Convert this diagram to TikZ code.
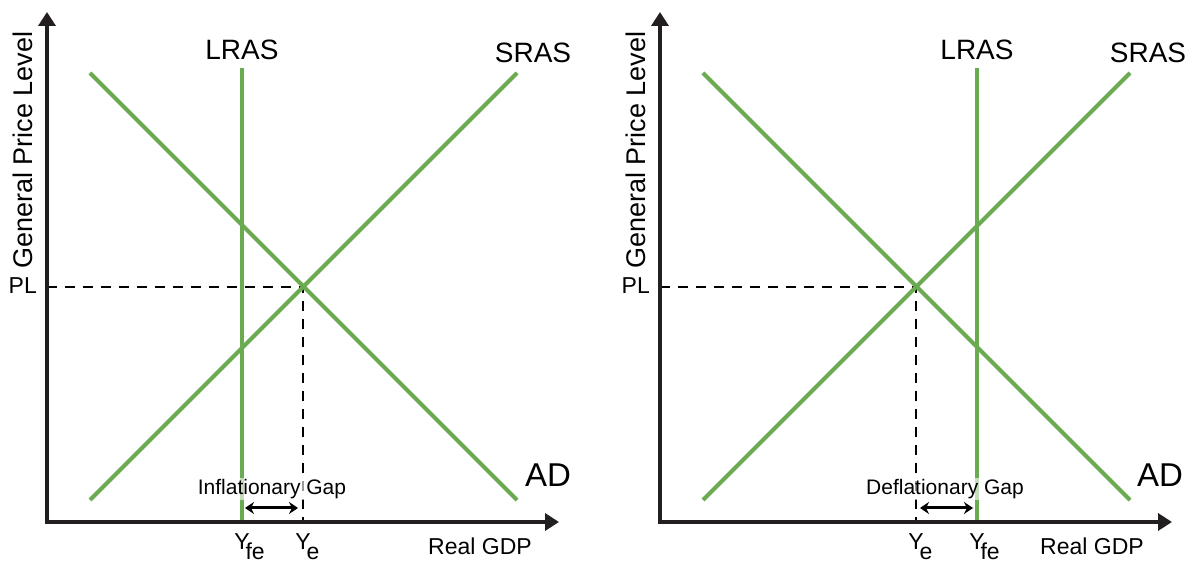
\documentclass[tikz,border=0pt]{standalone}
\usepackage{fontspec}
\setmainfont{Liberation Sans}
\usetikzlibrary{arrows.meta, positioning}
\definecolor{curvegreen}{RGB}{106,170,80}
\definecolor{axisgray}{RGB}{35,31,32}
\newcommand{\ysub}[1]{Y\rlap{\kern-0.18em\raisebox{-0.45em}{#1}}}

\begin{document}
\begin{tikzpicture}[x=1pt, y=1pt,
  axis/.style={{Triangle[length=14pt, width=17pt]}-{Triangle[length=14pt, width=17pt]},
               line width=4.5pt, draw=axisgray},
  curve/.style={draw=curvegreen, line width=4pt},
  guide/.style={line width=2.8pt, dash pattern=on 10pt off 8pt},
  gaparrow/.style={{Stealth[length=9pt, width=12pt]}-{Stealth[length=9pt, width=12pt]},
                   line width=3pt},
  curvelabel/.style={font=\fontsize{28}{28}\selectfont, inner sep=0pt},
  bigcurvelabel/.style={font=\fontsize{33}{33}\selectfont, inner sep=0pt},
  axislabel/.style={font=\fontsize{23}{23}\selectfont, inner sep=0pt},
  titlelabel/.style={font=\fontsize{27}{27}\selectfont, inner sep=0pt, rotate=90},
  gaplabel/.style={font=\fontsize{21}{21}\selectfont, inner sep=1pt,
                   fill=white, fill opacity=0.6, text opacity=1}
]
\useasboundingbox (0,0) rectangle (1203,570);

% inflationary gap
\begin{scope}[shift={(47,48)}]
  \coordinate (o1) at (0,0);
  \coordinate (ytip1) at (0,510);
  \coordinate (xtip1) at (512,0);
  \coordinate (lrastop1) at (195,454);
  \coordinate (lrasbot1) at (195,0);
  \coordinate (sraslo1) at (43,22);
  \coordinate (srashi1) at (470,449);
  \coordinate (adhi1) at (43,449);
  \coordinate (adlo1) at (470,22);
  \coordinate (eq1) at (256,235);
  \coordinate (pl1) at (0,235);
  \coordinate (ye1) at (256,0);

  \draw[guide] (pl1) -- (eq1) -- (ye1);
  \draw[curve] (lrastop1) -- (lrasbot1);
  \draw[curve] (sraslo1) -- (srashi1);
  \draw[curve] (adhi1) -- (adlo1);
  \draw[axis] (ytip1) -- (o1) -- (xtip1);

  \node[curvelabel, above=8pt of lrastop1] (lraslab1) {LRAS};
  \node[curvelabel] (sraslab1) at (486,469) {SRAS};
  \node[bigcurvelabel] (adlab1) at (501,47) {AD};
  \node[axislabel, anchor=east] (pllab1) at (-10,236) {PL};
  \node[titlelabel] (ylab1) at (-24,372) {General Price Level};
  \node[axislabel, below=11pt of lrasbot1] (yfelab1) {\ysub{fe}};
  \node[axislabel, below=11pt of ye1] (yelab1) {\ysub{e}};
  \node[axislabel, anchor=north] (xlab1) at (433,-16) {Real GDP};

  \coordinate (gapl1) at (198,14);
  \coordinate (gapr1) at (251,14);
  \node[gaplabel] (gaplab1) at (225,33) {Inflationary Gap};
  \draw[gaparrow] (gapl1) -- (gapr1);
\end{scope}

% deflationary gap
\begin{scope}[shift={(660,48)}]
  \coordinate (o2) at (0,0);
  \coordinate (ytip2) at (0,510);
  \coordinate (xtip2) at (512,0);
  \coordinate (lrastop2) at (317,454);
  \coordinate (lrasbot2) at (317,0);
  \coordinate (sraslo2) at (43,22);
  \coordinate (srashi2) at (470,449);
  \coordinate (adhi2) at (43,449);
  \coordinate (adlo2) at (470,22);
  \coordinate (eq2) at (256,235);
  \coordinate (pl2) at (0,235);
  \coordinate (ye2) at (256,0);

  \draw[guide] (pl2) -- (eq2) -- (ye2);
  \draw[curve] (lrastop2) -- (lrasbot2);
  \draw[curve] (sraslo2) -- (srashi2);
  \draw[curve] (adhi2) -- (adlo2);
  \draw[axis] (ytip2) -- (o2) -- (xtip2);

  \node[curvelabel, above=8pt of lrastop2] (lraslab2) {LRAS};
  \node[curvelabel] (sraslab2) at (488,469) {SRAS};
  \node[bigcurvelabel] (adlab2) at (500,47) {AD};
  \node[axislabel, anchor=east] (pllab2) at (-10,236) {PL};
  \node[titlelabel] (ylab2) at (-24,372) {General Price Level};
  \node[axislabel, below=11pt of ye2] (yelab2) {\ysub{e}};
  \node[axislabel, below=11pt of lrasbot2] (yfelab2) {\ysub{fe}};
  \node[axislabel, anchor=north] (xlab2) at (432,-16) {Real GDP};

  \coordinate (gapl2) at (260,14);
  \coordinate (gapr2) at (313,14);
  \node[gaplabel] (gaplab2) at (285,33) {Deflationary Gap};
  \draw[gaparrow] (gapl2) -- (gapr2);
\end{scope}
\end{tikzpicture}
\end{document}
